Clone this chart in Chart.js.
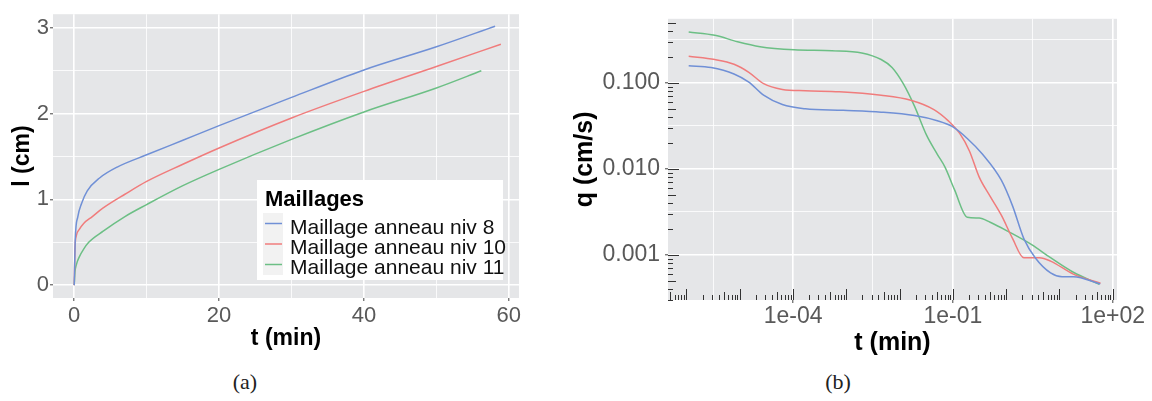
<!DOCTYPE html>
<html>
<head>
<meta charset="utf-8">
<script src="https://cdn.jsdelivr.net/npm/chart.js@4.4.1/dist/chart.umd.min.js"></script>
<style>
  body { margin: 0; background: #fff; width: 1152px; height: 401px; position: relative; overflow: hidden; }
  #chartA { position: absolute; left: 0; top: 0; }
  #chartB { position: absolute; left: 560px; top: 0; }
  .cap { position: absolute; top: 369px; width: 100px; text-align: center; line-height: 26px;
         font: 22px "Liberation Serif", "DejaVu Serif", serif; color: #222; }
</style>
</head>
<body>
<canvas id="chartA" width="560" height="360"></canvas>
<canvas id="chartB" width="592" height="360"></canvas>
<div class="cap" style="left:195px">(a)</div>
<div class="cap" style="left:788px">(b)</div>
<script>
// --- (a) l(t), linear axes ---
const seriesNames = ["Maillage anneau niv 8", "Maillage anneau niv 10", "Maillage anneau niv 11"];
const colors = ["#7090D6", "#F07C7C", "#6CBF85"];

const tNiv8A = [0, 0.14, 0.5, 1.0, 1.8, 3.5, 6, 10, 15, 20, 30, 40, 50, 58.1];
const lNiv8A = [0, 0.53, 0.80, 0.95, 1.10, 1.25, 1.38, 1.52, 1.69, 1.86, 2.19, 2.51, 2.78, 3.02];
const tNiv10A = [0, 0.1, 0.3, 0.7, 1.3, 2.5, 4, 7, 10, 15, 20, 30, 40, 50, 58.9];
const lNiv10A = [0, 0.42, 0.58, 0.65, 0.72, 0.80, 0.90, 1.06, 1.21, 1.41, 1.60, 1.95, 2.26, 2.55, 2.81];
const tNiv11A = [0, 0.1, 0.3, 0.7, 1.3, 2, 4, 7, 10, 15, 20, 30, 40, 50, 56.2];
const lNiv11A = [0, 0.15, 0.24, 0.33, 0.42, 0.50, 0.63, 0.80, 0.94, 1.16, 1.35, 1.70, 2.02, 2.30, 2.50];

const xTicksA = [0, 20, 40, 60];
const xMinorA = [10, 30, 50];
const yTicksA = [0, 1, 2, 3];
const yMinorA = [0.5, 1.5, 2.5];

// --- (b) q(t), log axes ---
const tNiv8B = [1.1e-6, 2.9e-6, 7.8e-6, 1.48e-5, 2.8e-5, 6.3e-5, 1.7e-4, 8.7e-4, 4.5e-3, 1.9e-2, 5.1e-2, 9.8e-2, 0.186, 0.36, 0.81, 1.32, 2.14, 3.5, 6.8, 11.2, 18.2, 58.1];
const qNiv8B = [0.158, 0.151, 0.127, 0.102, 0.072, 0.056, 0.050, 0.048, 0.0457, 0.0417, 0.0363, 0.031, 0.0226, 0.0148, 0.0074, 0.0037, 0.00155, 0.00093, 0.00062, 0.00056, 0.00056, 0.00046];
const tNiv10B = [1.1e-6, 3.4e-6, 7.8e-6, 1.48e-5, 2.8e-5, 6.3e-5, 1.7e-4, 7.4e-4, 4.5e-3, 1.62e-2, 4.4e-2, 8.3e-2, 0.135, 0.204, 0.31, 0.50, 0.81, 1.32, 2.14, 4.2, 6.8, 18.2, 58.9];
const qNiv10B = [0.204, 0.187, 0.165, 0.133, 0.098, 0.084, 0.081, 0.079, 0.072, 0.063, 0.049, 0.036, 0.0257, 0.0162, 0.0081, 0.0048, 0.0029, 0.00155, 0.00093, 0.00093, 0.00085, 0.0006, 0.00047];
const tNiv11B = [1.1e-6, 3.4e-6, 9.1e-6, 2.4e-5, 1.05e-4, 5.4e-4, 1.95e-3, 4.5e-3, 7.2e-3, 1.17e-2, 1.9e-2, 3.2e-2, 5.1e-2, 7.1e-2, 0.107, 0.186, 0.31, 0.50, 1.12, 3.0, 6.8, 18.2, 56];
const qNiv11B = [0.390, 0.358, 0.301, 0.264, 0.243, 0.237, 0.223, 0.187, 0.151, 0.098, 0.0537, 0.0247, 0.0148, 0.0105, 0.00575, 0.00275, 0.00269, 0.0024, 0.00186, 0.00132, 0.00093, 0.00063, 0.000457];

const xTicksB = [1e-4, 1e-1, 1e2];
const xTickLabelsB = ["1e-04", "1e-01", "1e+02"];
const xMinorB = [10 ** -5.5, 10 ** -2.5, 10 ** 0.5];
const yTicksB = [0.001, 0.01, 0.1];
const yTickLabelsB = ["0.001", "0.010", "0.100"];
const yMinorB = [10 ** -2.5, 10 ** -1.5, 10 ** -0.5];

Chart.defaults.font.family = '"Liberation Sans", Arial, sans-serif';
Chart.defaults.color = "#595959";

const PANEL = "#E5E6E8";
const TICKCOL = "#444";

const zip = (xs, ys) => xs.map((x, i) => ({ x: x, y: ys[i] }));
const near = (a, b, log) => log ? Math.abs(Math.log10(a) - Math.log10(b)) < 1e-6 : Math.abs(a - b) < 1e-9;
const isMajor = (v, majors, log) => majors.some(m => near(v, m, log));

const panelBg = {
  id: "panelBg",
  beforeDraw(chart) {
    const a = chart.chartArea;
    chart.ctx.save();
    chart.ctx.fillStyle = PANEL;
    chart.ctx.fillRect(a.left, a.top, a.right - a.left, a.bottom - a.top);
    chart.ctx.restore();
  }
};

function makeDatasets(pairs) {
  return pairs.map((p, i) => ({
    label: seriesNames[i],
    data: zip(p[0], p[1]),
    borderColor: colors[i],
    backgroundColor: colors[i],
    borderWidth: 1.5,
    pointRadius: 0,
    cubicInterpolationMode: "monotone",
    fill: false
  }));
}

function gridFor(majors, log) {
  return {
    color: "#ffffff",
    lineWidth: c => (c.tick && isMajor(c.tick.value, majors, log)) ? 1.6 : 0.8,
    tickLength: 3,
    tickWidth: 1,
    tickColor: c => (c.tick && isMajor(c.tick.value, majors, log)) ? TICKCOL : "rgba(0,0,0,0)"
  };
}

// legend drawn inside the plot area of (a)
const legendA = {
  id: "legendA",
  afterDraw(chart) {
    const ctx = chart.ctx;
    ctx.save();
    ctx.fillStyle = "#ffffff";
    ctx.fillRect(257, 180, 246, 100);
    ctx.fillStyle = "#000";
    ctx.font = 'bold 22px "Liberation Sans", Arial, sans-serif';
    ctx.textBaseline = "alphabetic";
    ctx.fillText("Maillages", 265, 206);
    ctx.fillStyle = "#F2F2F2";
    ctx.fillRect(263, 213, 20, 62);
    const lineY = [223.5, 244, 264.5];
    const textY = [234, 254, 273.5];
    ctx.font = '21px "Liberation Sans", Arial, sans-serif';
    chart.data.datasets.forEach((ds, i) => {
      ctx.strokeStyle = ds.borderColor;
      ctx.lineWidth = 1.5;
      ctx.beginPath();
      ctx.moveTo(265, lineY[i]);
      ctx.lineTo(282, lineY[i]);
      ctx.stroke();
      ctx.fillStyle = "#111";
      ctx.fillText(ds.label, 290, textY[i]);
    });
    ctx.restore();
  }
};

// log tick marks on the bottom and left edges of (b)
const logTicks = {
  id: "logTicks",
  afterDatasetsDraw(chart) {
    const { ctx, chartArea: a } = chart;
    const x = chart.scales.x, y = chart.scales.y;
    ctx.save();
    ctx.strokeStyle = "#333";
    ctx.lineWidth = 1;
    ctx.beginPath();
    for (let n = -8; n <= 3; n++) {
      for (let k = 1; k <= 9; k++) {
        const v = k * 10 ** n;
        const len = k === 1 ? 11 : (k === 5 ? 8 : 5);
        if (v >= x.min && v <= x.max) {
          const px = Math.round(x.getPixelForValue(v)) + 0.5;
          ctx.moveTo(px, a.bottom);
          ctx.lineTo(px, a.bottom - len);
        }
        if (v >= y.min && v <= y.max) {
          const py = Math.round(y.getPixelForValue(v)) + 0.5;
          ctx.moveTo(a.left, py);
          ctx.lineTo(a.left + len, py);
        }
      }
    }
    ctx.stroke();
    ctx.restore();
  }
};

new Chart(document.getElementById("chartA"), {
  type: "line",
  data: { datasets: makeDatasets([[tNiv8A, lNiv8A], [tNiv10A, lNiv10A], [tNiv11A, lNiv11A]]) },
  options: {
    responsive: false,
    animation: false,
    layout: { padding: { top: 12, right: 41, left: 0, bottom: 0 } },
    plugins: { legend: { display: false }, tooltip: { enabled: false } },
    scales: {
      x: {
        type: "linear",
        min: -2.93,
        max: 61.4,
        afterBuildTicks: s => { s.ticks = xTicksA.concat(xMinorA).sort((a, b) => a - b).map(v => ({ value: v })); },
        afterFit: s => { s.height = 62; },
        ticks: { autoSkip: false, maxRotation: 0, padding: 2, font: { size: 22 },
                 callback: v => isMajor(v, xTicksA, false) ? String(v) : "" },
        grid: gridFor(xTicksA, false),
        border: { display: false },
        title: { display: true, text: "t (min)", color: "#000", font: { size: 23, weight: "bold" },
                 padding: { top: 0, bottom: 8 } }
      },
      y: {
        type: "linear",
        min: -0.15,
        max: 3.16,
        afterBuildTicks: s => { s.ticks = yTicksA.concat(yMinorA).sort((a, b) => a - b).map(v => ({ value: v })); },
        afterFit: s => { s.width = 53; },
        ticks: { autoSkip: false, padding: 1, font: { size: 22 },
                 callback: v => isMajor(v, yTicksA, false) ? String(v) : "" },
        grid: gridFor(yTicksA, false),
        border: { display: false },
        title: { display: true, text: "l (cm)", color: "#000", font: { size: 23, weight: "bold" },
                 padding: { top: 9, bottom: 0 } }
      }
    }
  },
  plugins: [panelBg, legendA]
});

new Chart(document.getElementById("chartB"), {
  type: "line",
  data: { datasets: makeDatasets([[tNiv8B, qNiv8B], [tNiv10B, qNiv10B], [tNiv11B, qNiv11B]]) },
  options: {
    responsive: false,
    animation: false,
    layout: { padding: { top: 13, right: 35, left: 0, bottom: 0 } },
    plugins: { legend: { display: false }, tooltip: { enabled: false } },
    scales: {
      x: {
        type: "logarithmic",
        min: 4.5e-7,
        max: 120,
        afterBuildTicks: s => { s.ticks = xTicksB.concat(xMinorB).sort((a, b) => a - b).map(v => ({ value: v })); },
        afterFit: s => { s.height = 60; },
        ticks: { autoSkip: false, maxRotation: 0, padding: 0, font: { size: 23 },
                 callback: v => { const i = xTicksB.findIndex(m => near(v, m, true)); return i >= 0 ? xTickLabelsB[i] : ""; } },
        grid: gridFor(xTicksB, true),
        border: { display: false },
        title: { display: true, text: "t (min)", color: "#000", font: { size: 25, weight: "bold" },
                 padding: { top: 0, bottom: 2 } }
      },
      y: {
        type: "logarithmic",
        min: 3.3e-4,
        max: 0.556,
        afterBuildTicks: s => { s.ticks = yTicksB.concat(yMinorB).sort((a, b) => a - b).map(v => ({ value: v })); },
        afterFit: s => { s.width = 108; },
        ticks: { autoSkip: false, padding: 5, font: { size: 23 },
                 callback: v => { const i = yTicksB.findIndex(m => near(v, m, true)); return i >= 0 ? yTickLabelsB[i] : ""; } },
        grid: gridFor(yTicksB, true),
        border: { display: false },
        title: { display: true, text: "q (cm/s)", color: "#000", font: { size: 25, weight: "bold" },
                 padding: { top: 10, bottom: 0 } }
      }
    }
  },
  plugins: [panelBg, logTicks]
});
</script>
</body>
</html>
